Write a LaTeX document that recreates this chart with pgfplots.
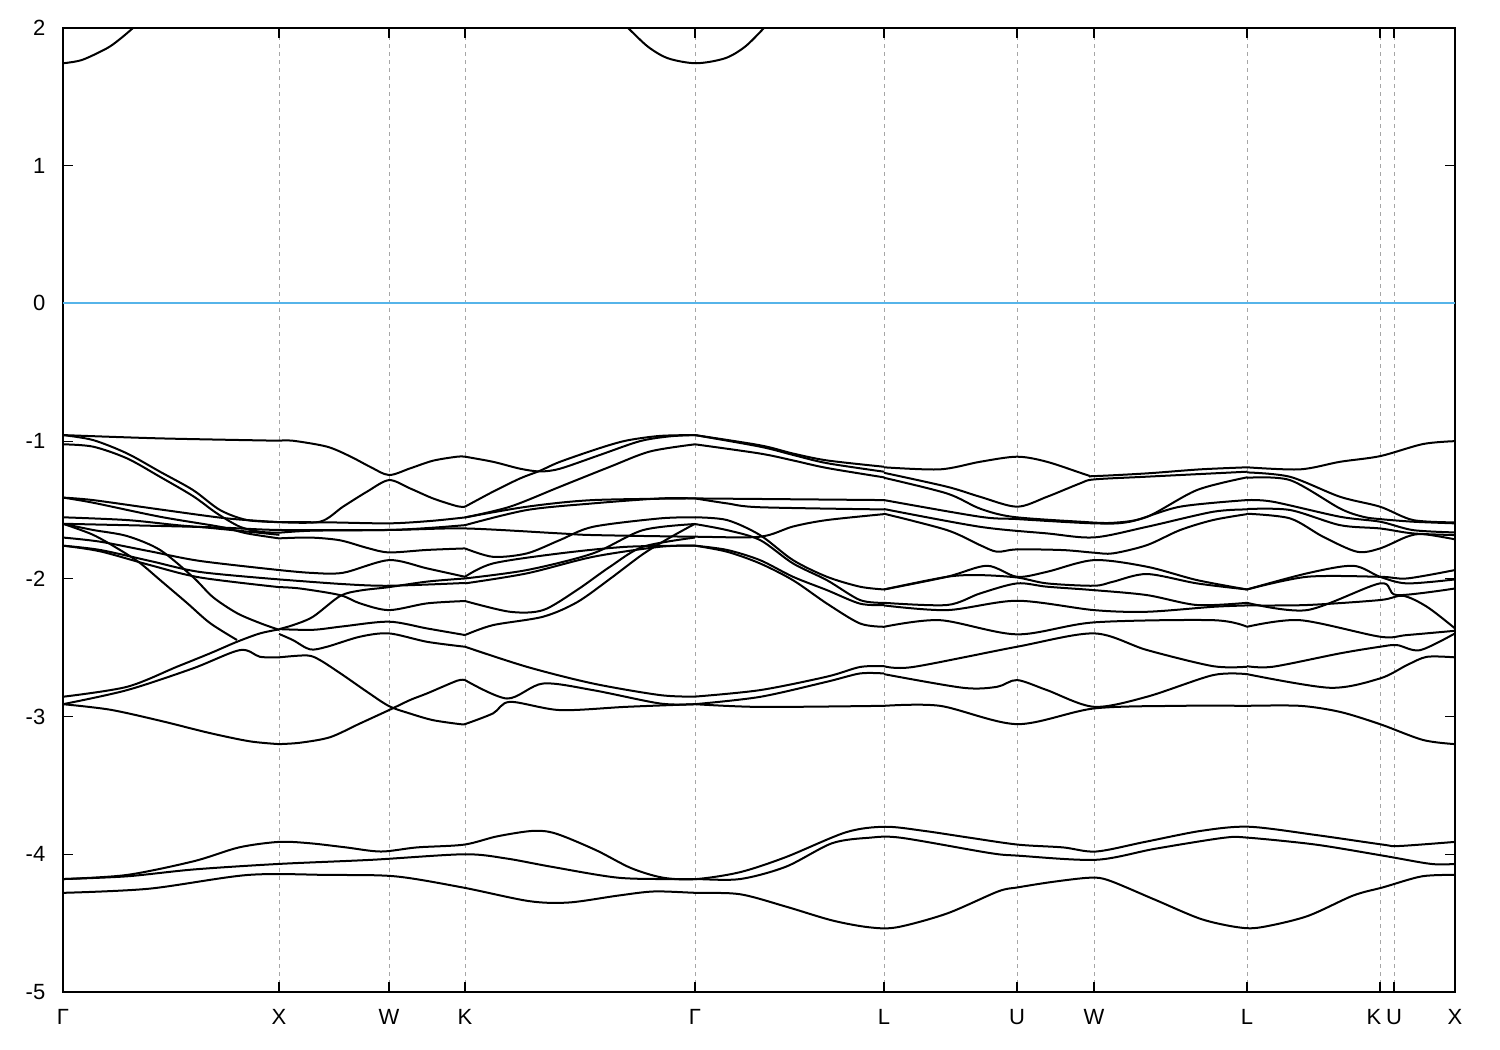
\documentclass[border=0pt]{standalone}
\usepackage{fontspec}
\setmainfont{Liberation Sans}
\usepackage{pgfplots}
\pgfplotsset{compat=1.18}
\definecolor{zeroline}{RGB}{86,180,233}
\pgfplotsset{b/.style={black, solid, line width=1pt, smooth, tension=0.5, mark=none}}
\begin{document}
\fontsize{11}{13}\selectfont
\begin{tikzpicture}
\begin{axis}[
  at={(0,0)}, anchor=south west, scale only axis,
  width=696pt, height=482pt,
  xmin=63, xmax=1455, ymin=-5, ymax=2,
  xtick={63,279,389,465,695,884,1017,1094,1247,1380,1394,1455},
  xticklabels={Γ,X,W,K,Γ,L,U,W,L,{K\hspace*{6pt}},U,X},
  ytick={-5,-4,-3,-2,-1,0,1,2},
  yticklabels={-5,-4,-3,-2,-1,0,1,2},
  tick align=inside, major tick length=5pt,
  xmajorgrids, grid style={gray!70, dash pattern=on 2pt off 2pt, line width=0.4pt},
  axis line style={line width=1pt},
  tick style={line width=0.6pt, black},
  xticklabel style={yshift=-5pt},
  yticklabel style={xshift=-5pt},
]
% zero line
\addplot[color=zeroline, line width=1pt, mark=none] coordinates {(63,0)(1455,0)};
% conduction band
\addplot[b] coordinates {(63,1.744)(82,1.768)(107,1.853)(120,1.92)(133,2.0)(140,2.05)};
\addplot[b] coordinates {(620,2.05)(628,2.0)(648,1.864)(668,1.78)(696,1.744)(725,1.78)(745,1.864)(764,2.0)(770,2.05)};
% lower manifold
\addplot[b] coordinates {(63,-4.18)(127,-4.15)(194,-4.05)(239,-3.95)(279,-3.91)(310,-3.92)(346,-3.95)(381,-3.98)(417,-3.95)(464,-3.93)(497,-3.87)(533,-3.83)(556,-3.85)(596,-3.97)(631,-4.10)(663,-4.17)(696,-4.18)(740,-4.13)(786,-4.02)(846,-3.84)(885,-3.80)(924,-3.83)(970,-3.88)(1018,-3.93)(1063,-3.95)(1096,-3.98)(1145,-3.91)(1201,-3.83)(1249,-3.80)(1316,-3.86)(1383,-3.93)(1399,-3.94)(1455,-3.91)};
\addplot[b] coordinates {(63,-4.18)(127,-4.16)(194,-4.11)(279,-4.07)(372,-4.04)(464,-4.00)(506,-4.03)(551,-4.09)(618,-4.17)(676,-4.18)(696,-4.18)(740,-4.18)(786,-4.09)(832,-3.92)(869,-3.88)(901,-3.88)(989,-3.99)(1018,-4.01)(1096,-4.04)(1155,-3.96)(1224,-3.88)(1249,-3.88)(1316,-3.93)(1383,-4.01)(1431,-4.07)(1455,-4.07)};
\addplot[b] coordinates {(63,-4.28)(149,-4.25)(248,-4.15)(328,-4.15)(395,-4.16)(462,-4.24)(529,-4.34)(569,-4.35)(618,-4.30)(654,-4.27)(696,-4.28)(740,-4.29)(786,-4.38)(832,-4.48)(869,-4.53)(897,-4.53)(947,-4.43)(998,-4.27)(1018,-4.24)(1053,-4.20)(1090,-4.17)(1109,-4.19)(1155,-4.33)(1201,-4.47)(1238,-4.53)(1261,-4.53)(1307,-4.45)(1353,-4.30)(1383,-4.24)(1422,-4.16)(1455,-4.15)};
% ---- Gamma -> X
\addplot[b] coordinates {(63,-0.956)(160,-0.98)(279,-0.997)};
\addplot[b] coordinates {(63,-0.956)(93,-0.992)(127,-1.089)(160,-1.222)(193,-1.355)(220,-1.5)(247,-1.573)(279,-1.588)};
\addplot[b] coordinates {(63,-1.023)(93,-1.04)(127,-1.125)(160,-1.259)(193,-1.399)(217,-1.525)(240,-1.622)(260,-1.658)(279,-1.665)};
\addplot[b] coordinates {(63,-1.41)(93,-1.428)(160,-1.496)(227,-1.561)(279,-1.588)};
\addplot[b] coordinates {(63,-1.41)(93,-1.447)(160,-1.549)(220,-1.622)(247,-1.67)(279,-1.706)};
\addplot[b] coordinates {(63,-1.553)(127,-1.573)(177,-1.61)(210,-1.63)(279,-1.68)};
\addplot[b] coordinates {(63,-1.60)(210,-1.625)(279,-1.645)(389,-1.645)(465,-1.634)(560,-1.67)(593,-1.682)(695,-1.694)(760,-1.694)(793,-1.62)(827,-1.573)(884,-1.53)};
\addplot[b] coordinates {(63,-1.60)(93,-1.645)(127,-1.689)(160,-1.79)(193,-1.987)(213,-2.133)(237,-2.249)(260,-2.321)(279,-2.37)};
\addplot[b] coordinates {(63,-1.60)(93,-1.68)(120,-1.79)(140,-1.885)(160,-2.008)(187,-2.175)(210,-2.321)(237,-2.444)};
\addplot[b] coordinates {(63,-1.70)(100,-1.73)(150,-1.80)(200,-1.87)(279,-1.936)};
\addplot[b] coordinates {(63,-1.759)(100,-1.79)(150,-1.87)(200,-1.95)(279,-2.004)};
\addplot[b] coordinates {(63,-1.759)(100,-1.80)(150,-1.9)(200,-1.99)(279,-2.06)};
\addplot[b] coordinates {(63,-2.856)(127,-2.784)(177,-2.638)(210,-2.541)(237,-2.457)(260,-2.396)(279,-2.367)};
\addplot[b] coordinates {(63,-2.91)(127,-2.808)(193,-2.65)(240,-2.517)(260,-2.566)(279,-2.57)};
\addplot[b] coordinates {(63,-2.91)(110,-2.95)(160,-3.03)(210,-3.12)(250,-3.18)(279,-3.2)};
% ---- X -> W -> K
\addplot[b] coordinates {(279,-0.997)(293,-0.997)(327,-1.04)(350,-1.11)(370,-1.186)(389,-1.246)(410,-1.198)(433,-1.142)(457,-1.113)(465,-1.113)};
\addplot[b] coordinates {(279,-1.588)(320,-1.585)(343,-1.476)(367,-1.367)(389,-1.283)(410,-1.343)(433,-1.416)(457,-1.472)(465,-1.476)};
\addplot[b] coordinates {(279,-1.588)(330,-1.59)(389,-1.597)(430,-1.58)(465,-1.554)};
\addplot[b] coordinates {(279,-1.665)(313,-1.65)(389,-1.645)(430,-1.63)(465,-1.61)};
\addplot[b] coordinates {(279,-1.706)(310,-1.70)(340,-1.72)(367,-1.775)(389,-1.808)(427,-1.79)(465,-1.779)};
\addplot[b] coordinates {(279,-1.936)(310,-1.956)(343,-1.956)(389,-1.864)(427,-1.924)(465,-1.985)};
\addplot[b] coordinates {(279,-2.004)(343,-2.038)(389,-2.05)(465,-2.03)};
\addplot[b] coordinates {(279,-2.06)(300,-2.07)(340,-2.118)(360,-2.178)(389,-2.227)(427,-2.178)(465,-2.161)};
\addplot[b] coordinates {(279,-2.365)(293,-2.336)(313,-2.275)(340,-2.125)(360,-2.085)(389,-2.06)(427,-2.02)(465,-1.997)};
\addplot[b] coordinates {(279,-2.40)(293,-2.445)(310,-2.512)(327,-2.493)(360,-2.42)(389,-2.396)(427,-2.457)(465,-2.493)};
\addplot[b] coordinates {(279,-2.365)(313,-2.37)(343,-2.345)(389,-2.311)(427,-2.36)(465,-2.408)};
\addplot[b] coordinates {(279,-2.57)(307,-2.556)(320,-2.59)(343,-2.699)(367,-2.82)(389,-2.924)(410,-2.978)(433,-3.026)(460,-3.055)(465,-3.055)};
\addplot[b] coordinates {(279,-3.2)(300,-3.19)(330,-3.15)(360,-3.05)(389,-2.953)(410,-2.88)(427,-2.832)(457,-2.74)(465,-2.735)};
% ---- K -> Gamma
\addplot[b] coordinates {(465,-1.113)(493,-1.15)(520,-1.2)(540,-1.22)(560,-1.2)(600,-1.1)(640,-1.0)(670,-0.965)(695,-0.956)};
\addplot[b] coordinates {(465,-1.476)(493,-1.367)(520,-1.271)(540,-1.215)(560,-1.15)(600,-1.05)(627,-0.995)(660,-0.962)(695,-0.956)};
\addplot[b] coordinates {(465,-1.554)(510,-1.476)(560,-1.331)(610,-1.186)(650,-1.075)(695,-1.023)};
\addplot[b] coordinates {(465,-1.554)(527,-1.476)(593,-1.428)(695,-1.416)};
\addplot[b] coordinates {(465,-1.61)(527,-1.50)(593,-1.452)(660,-1.416)(695,-1.416)};
\addplot[b] coordinates {(465,-1.779)(493,-1.84)(527,-1.815)(560,-1.718)(593,-1.622)(660,-1.561)(695,-1.553)};
\addplot[b] coordinates {(465,-1.985)(493,-1.888)(560,-1.815)(627,-1.767)(695,-1.759)};
\addplot[b] coordinates {(465,-1.997)(527,-1.936)(593,-1.815)(643,-1.646)(695,-1.602)};
\addplot[b] coordinates {(465,-2.033)(527,-1.96)(593,-1.84)(660,-1.767)(695,-1.759)};
\addplot[b] coordinates {(465,-2.161)(510,-2.239)(543,-2.227)(577,-2.081)(610,-1.912)(643,-1.767)(695,-1.70)};
\addplot[b] coordinates {(465,-2.408)(493,-2.336)(543,-2.275)(577,-2.17)(610,-2.0)(643,-1.82)(670,-1.70)(695,-1.60)};
\addplot[b] coordinates {(465,-2.493)(527,-2.639)(593,-2.76)(660,-2.844)(695,-2.855)};
\addplot[b] coordinates {(465,-2.735)(507,-2.869)(543,-2.76)(593,-2.808)(660,-2.905)(695,-2.91)};
\addplot[b] coordinates {(465,-3.055)(493,-2.977)(510,-2.893)(560,-2.953)(627,-2.929)(695,-2.91)};
% ---- Gamma -> L
\addplot[b] coordinates {(695,-0.956)(760,-1.03)(793,-1.09)(827,-1.14)(884,-1.186)};
\addplot[b] coordinates {(695,-0.956)(760,-1.04)(793,-1.10)(827,-1.16)(884,-1.222)};
\addplot[b] coordinates {(695,-1.023)(760,-1.09)(793,-1.14)(827,-1.195)(884,-1.263)};
\addplot[b] coordinates {(695,-1.416)(760,-1.42)(884,-1.428)};
\addplot[b] coordinates {(695,-1.416)(727,-1.452)(760,-1.48)(884,-1.496)};
\addplot[b] coordinates {(695,-1.553)(727,-1.573)(760,-1.682)(793,-1.864)(827,-1.985)(860,-2.057)(884,-2.077)};
\addplot[b] coordinates {(695,-1.602)(727,-1.646)(760,-1.718)(793,-1.888)(827,-2.01)(860,-2.154)(884,-2.174)};
\addplot[b] coordinates {(695,-1.759)(727,-1.79)(760,-1.864)(793,-1.985)(827,-2.082)(860,-2.18)(884,-2.19)};
\addplot[b] coordinates {(695,-1.759)(727,-1.803)(760,-1.888)(793,-2.01)(827,-2.18)(860,-2.324)(884,-2.348)};
\addplot[b] coordinates {(695,-2.855)(760,-2.808)(827,-2.71)(860,-2.64)(884,-2.634)};
\addplot[b] coordinates {(695,-2.91)(760,-2.857)(827,-2.747)(860,-2.687)(884,-2.687)};
\addplot[b] coordinates {(695,-2.91)(760,-2.93)(884,-2.922)};
% ---- L -> U -> W -> L
\addplot[b] coordinates {(884,-1.19)(940,-1.205)(980,-1.15)(1017,-1.113)(1047,-1.15)(1087,-1.246)(1094,-1.254)(1147,-1.234)(1200,-1.205)(1247,-1.19)};
\addplot[b] coordinates {(884,-1.23)(947,-1.331)(980,-1.404)(1017,-1.476)(1047,-1.404)(1080,-1.307)(1094,-1.278)(1147,-1.258)(1247,-1.222)};
\addplot[b] coordinates {(884,-1.266)(947,-1.38)(980,-1.49)(1013,-1.55)(1080,-1.585)(1113,-1.593)(1147,-1.55)(1197,-1.355)(1247,-1.263)};
\addplot[b] coordinates {(884,-1.428)(980,-1.549)(1017,-1.566)(1094,-1.597)(1130,-1.585)(1180,-1.476)(1247,-1.428)};
\addplot[b] coordinates {(884,-1.493)(980,-1.622)(1047,-1.67)(1094,-1.699)(1147,-1.622)(1213,-1.513)(1247,-1.496)};
\addplot[b] coordinates {(884,-1.527)(947,-1.646)(980,-1.755)(997,-1.803)(1017,-1.786)(1063,-1.791)(1094,-1.81)(1113,-1.815)(1147,-1.755)(1180,-1.646)(1213,-1.573)(1247,-1.53)};
\addplot[b] coordinates {(884,-2.077)(947,-1.985)(987,-1.905)(1017,-1.985)(1047,-1.949)(1094,-1.864)(1147,-1.912)(1197,-2.009)(1247,-2.077)};
\addplot[b] coordinates {(884,-2.077)(947,-1.985)(980,-1.973)(1017,-1.99)(1047,-2.033)(1094,-2.05)(1113,-2.021)(1147,-1.965)(1197,-2.033)(1247,-2.077)};
\addplot[b] coordinates {(884,-2.174)(947,-2.19)(980,-2.106)(1017,-2.033)(1047,-2.057)(1094,-2.082)(1147,-2.118)(1197,-2.19)(1247,-2.174)};
\addplot[b] coordinates {(884,-2.193)(947,-2.227)(1017,-2.159)(1094,-2.227)(1147,-2.239)(1213,-2.203)(1247,-2.193)};
\addplot[b] coordinates {(884,-2.348)(940,-2.3)(1017,-2.403)(1094,-2.316)(1213,-2.3)(1247,-2.348)};
\addplot[b] coordinates {(884,-2.634)(913,-2.64)(1017,-2.493)(1094,-2.396)(1147,-2.517)(1213,-2.634)(1247,-2.638)};
\addplot[b] coordinates {(884,-2.692)(963,-2.791)(997,-2.784)(1017,-2.735)(1047,-2.808)(1094,-2.929)(1147,-2.856)(1213,-2.699)(1247,-2.692)};
\addplot[b] coordinates {(884,-2.922)(940,-2.922)(1017,-3.055)(1094,-2.941)(1180,-2.922)(1247,-2.922)};
% ---- L -> K -> U -> X
\addplot[b] coordinates {(1247,-1.19)(1300,-1.205)(1340,-1.15)(1380,-1.109)(1423,-1.021)(1455,-1.0)};
\addplot[b] coordinates {(1247,-1.227)(1290,-1.259)(1340,-1.404)(1380,-1.476)(1413,-1.573)(1455,-1.59)};
\addplot[b] coordinates {(1247,-1.266)(1290,-1.283)(1340,-1.489)(1363,-1.549)(1380,-1.566)(1413,-1.585)(1455,-1.597)};
\addplot[b] coordinates {(1247,-1.428)(1273,-1.44)(1340,-1.549)(1380,-1.585)(1413,-1.646)(1455,-1.663)};
\addplot[b] coordinates {(1247,-1.493)(1290,-1.5)(1340,-1.61)(1380,-1.634)(1413,-1.67)(1455,-1.682)};
\addplot[b] coordinates {(1247,-1.527)(1290,-1.561)(1323,-1.694)(1357,-1.803)(1380,-1.779)(1407,-1.694)(1423,-1.675)(1455,-1.713)};
\addplot[b] coordinates {(1247,-2.077)(1307,-1.96)(1353,-1.905)(1380,-1.985)(1407,-2.033)(1455,-2.004)};
\addplot[b] coordinates {(1247,-2.077)(1307,-1.985)(1380,-1.985)(1407,-1.997)(1455,-1.936)};
\addplot[b] coordinates {(1247,-2.174)(1307,-2.227)(1380,-2.033)(1397,-2.118)(1455,-2.07)};
\addplot[b] coordinates {(1247,-2.193)(1307,-2.19)(1380,-2.154)(1403,-2.123)(1427,-2.203)(1455,-2.36)};
\addplot[b] coordinates {(1247,-2.348)(1300,-2.3)(1380,-2.42)(1407,-2.408)(1455,-2.377)};
\addplot[b] coordinates {(1247,-2.634)(1273,-2.638)(1340,-2.541)(1380,-2.493)(1397,-2.481)(1420,-2.518)(1455,-2.396)};
\addplot[b] coordinates {(1247,-2.692)(1330,-2.791)(1380,-2.723)(1407,-2.626)(1427,-2.566)(1455,-2.57)};
\addplot[b] coordinates {(1247,-2.922)(1300,-2.922)(1340,-2.966)(1380,-3.055)(1423,-3.17)(1455,-3.2)};
\end{axis}
\pgfresetboundingbox
\path[use as bounding box] (-31.5pt,-29pt) rectangle (718.5pt,496pt);
\end{tikzpicture}
\end{document}
